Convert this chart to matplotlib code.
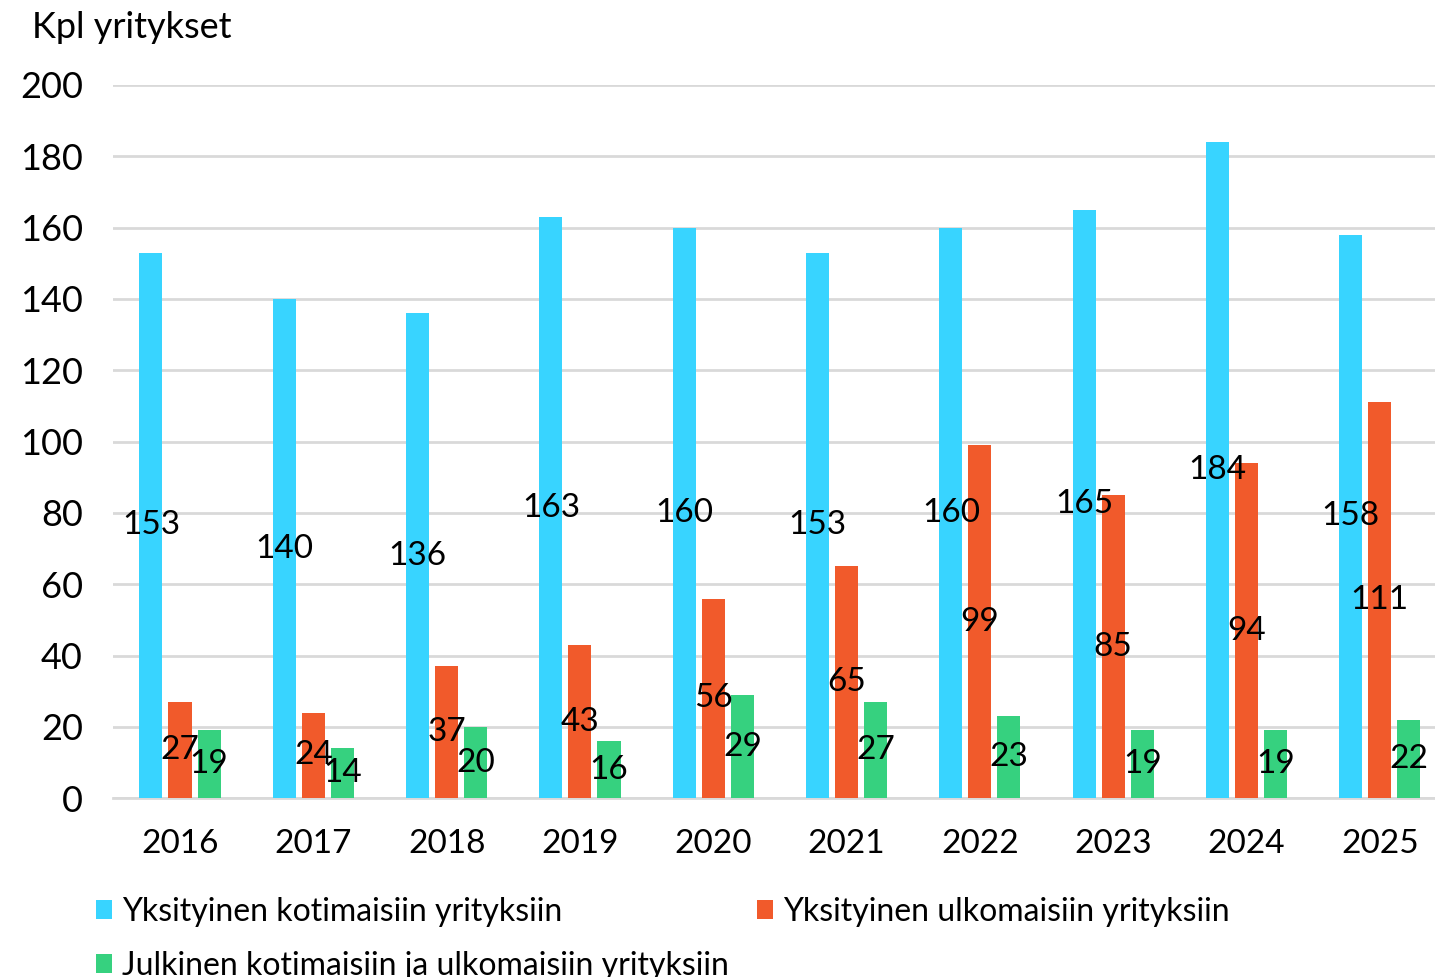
"""
Company Counts Chart Module
Draws yearly counts of companies by ownership type.
"""

import numpy as np
import matplotlib.pyplot as plt


plt.rcParams['font.family'] = ['Lato', 'DejaVu Sans']


class CompanyChart:
    """
    Grouped bar chart of company counts per year.
    """

    def __init__(self):
        """
        Initialize chart data.
        """
        self.years = ['2016', '2017', '2018', '2019', '2020', '2021', '2022', '2023', '2024', '2025']
        self.series = {
            'Yksityinen kotimaisiin yrityksiin': [153, 140, 136, 163, 160, 153, 160, 165, 184, 158],
            'Yksityinen ulkomaisiin yrityksiin': [27, 24, 37, 43, 56, 65, 99, 85, 94, 111],
            'Julkinen kotimaisiin ja ulkomaisiin yrityksiin': [19, 14, 20, 16, 29, 27, 23, 19, 19, 22],
        }
        self.colors = ['#38D4FF', '#F15A2B', '#36D17F']

    def plot(self):
        """
        Plot grouped bars with centered value labels.
        """
        fig = plt.figure(figsize=(14.35, 9.77), dpi=100)
        ax = fig.add_axes([0.079, 0.183, 0.929, 0.730])

        x = np.arange(len(self.years))
        width = 0.173
        offset = 0.218

        # Draw each series
        handles = []
        for i, (name, values) in enumerate(self.series.items()):
            pos = x + (i - 1) * offset
            bars = ax.bar(pos, values, width, color=self.colors[i], label=name, zorder=3)
            handles.append(bars)
            for bar, val in zip(bars, values):
                ax.text(bar.get_x() + bar.get_width() / 2, val / 2, str(val),
                        ha='center', va='center', fontsize=24, color='black', zorder=4)

        ax.set_xlim(-0.5, len(self.years) - 0.5)
        ax.set_ylim(0, 200)
        ax.set_yticks(np.arange(0, 201, 20))
        ax.set_xticks(x)
        ax.set_xticklabels(self.years)
        ax.tick_params(axis='both', length=0)
        ax.tick_params(axis='x', pad=22, labelsize=24)
        ax.tick_params(axis='y', pad=22, labelsize=26)
        ax.grid(True, axis='y', color='#D9D9D9', linewidth=2, zorder=0)
        for side in ['top', 'right', 'left']:
            ax.spines[side].set_visible(False)
        ax.spines['bottom'].set_color('#D9D9D9')
        ax.spines['bottom'].set_linewidth(2)

        fig.text(0.022, 0.972, 'Kpl yritykset', fontsize=26, va='center', ha='left')

        # Add legend below the axes (row order: cyan, orange / green)
        order = [handles[0], handles[2], handles[1]]
        fig.legend(order, [h.get_label() for h in order], loc='upper left',
                   bbox_to_anchor=(0.067, 0.082), ncol=2,
                   frameon=False, fontsize=23, handlelength=0.5, handleheight=0.5,
                   handletextpad=0.3, columnspacing=0.9, labelspacing=0.75,
                   borderaxespad=0, borderpad=0)

        plt.savefig('out.png', dpi=100)
        print("Chart saved as 'out.png'")


chart = CompanyChart()
chart.plot()
